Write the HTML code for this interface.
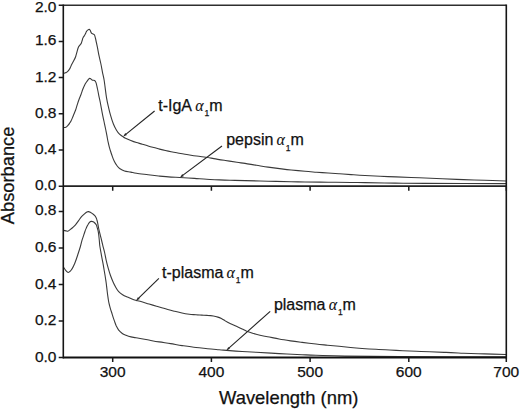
<!DOCTYPE html>
<html><head><meta charset="utf-8"><style>
html,body{margin:0;padding:0;background:#fff;}
body{width:520px;height:409px;position:relative;overflow:hidden;font-family:"Liberation Sans",sans-serif;color:#111;-webkit-text-stroke:0.25px #111;}
svg{position:absolute;left:0;top:0;}
.tl{position:absolute;font-size:15.5px;line-height:16px;transform:translateY(-8.8px);white-space:nowrap;}
.xl{position:absolute;top:363.5px;font-size:15.5px;line-height:16px;transform:translateX(-50%);white-space:nowrap;}
.al{position:absolute;font-size:16px;line-height:16px;white-space:nowrap;transform:translateY(-12.5px);}
.al .a{font-family:"Liberation Serif",serif;font-style:italic;font-size:16px;-webkit-text-stroke:0.1px #111;}
.al .s{font-size:8.5px;position:relative;top:5.6px;margin-left:0.8px;margin-right:0px;}
.xt{position:absolute;left:219px;top:389.2px;font-size:18.4px;line-height:18px;white-space:nowrap;}
.yt{position:absolute;left:0;top:0;font-size:18.3px;line-height:18px;white-space:nowrap;transform-origin:0 0;}
</style></head><body>
<svg width="520" height="409" viewBox="0 0 520 409">
<rect x="0" y="0" width="520" height="409" fill="#fff"/>
<path d="M63.5 73.3C63.8 73.2 64.8 73.1 65.5 72.8C66.2 72.5 66.8 72.4 67.5 71.7C68.2 71.0 69.1 69.8 69.8 68.6C70.5 67.4 71.1 65.6 71.8 64.3C72.5 63.0 73.0 62.1 73.7 60.8C74.4 59.5 75.2 58.0 75.7 56.5C76.2 55.0 76.6 53.3 77.0 51.8C77.4 50.3 77.8 48.5 78.3 47.4C78.8 46.3 79.2 46.1 79.7 45.4C80.2 44.7 80.9 44.1 81.3 43.2C81.7 42.3 82.0 40.9 82.3 40.0C82.6 39.1 82.6 38.5 83.0 37.8C83.4 37.0 84.0 36.3 84.5 35.5C85.0 34.7 85.5 33.7 85.8 33.0C86.1 32.3 86.2 31.9 86.5 31.4C86.8 30.9 87.2 30.5 87.7 30.1C88.2 29.7 88.9 29.2 89.3 29.2C89.7 29.2 89.8 29.6 90.2 30.3C90.6 31.0 91.0 32.5 91.5 33.1C92.0 33.7 92.6 33.7 93.1 34.0C93.6 34.3 94.0 34.0 94.4 34.8C94.8 35.5 95.0 36.4 95.5 38.5C96.0 40.6 96.8 44.4 97.4 47.2C98.0 50.0 98.3 52.5 98.9 55.2C99.5 57.9 100.2 60.8 100.8 63.5C101.4 66.2 101.8 68.7 102.3 71.4C102.8 74.2 103.6 77.1 104.1 80.0C104.6 82.9 104.9 85.9 105.3 88.8C105.7 91.7 106.0 94.7 106.5 97.6C107.0 100.5 107.6 103.5 108.3 106.4C109.0 109.3 109.7 112.3 110.5 115.2C111.3 118.1 112.4 121.5 113.4 124.0C114.4 126.5 115.5 128.5 116.5 130.2C117.5 131.9 118.4 133.1 119.5 134.2C120.6 135.3 122.2 136.1 123.1 136.7C124.0 137.3 123.7 137.4 125.0 138.0C126.3 138.6 128.9 139.7 130.8 140.4C132.7 141.2 134.6 141.9 136.5 142.5C138.4 143.1 140.4 143.6 142.3 144.2C144.2 144.8 146.2 145.3 148.1 145.9C150.0 146.5 151.9 147.0 153.8 147.5C155.7 148.0 157.7 148.6 159.6 149.1C161.5 149.6 163.5 150.1 165.4 150.5C167.3 150.9 169.2 151.3 171.1 151.7C173.0 152.1 174.6 152.4 176.9 152.8C179.2 153.2 181.7 153.7 185.0 154.2C188.3 154.7 193.0 155.5 196.5 156.0C200.0 156.5 202.9 156.8 205.8 157.2C208.7 157.6 210.5 158.0 213.8 158.6C217.1 159.2 221.6 159.9 225.4 160.5C229.2 161.1 233.6 161.8 236.9 162.3C240.2 162.8 241.7 162.9 245.0 163.4C248.3 163.9 252.7 164.7 256.5 165.3C260.4 165.9 264.2 166.6 268.1 167.1C272.0 167.6 275.8 168.1 279.6 168.6C283.4 169.1 286.9 169.6 291.1 170.0C295.3 170.4 300.8 170.9 305.0 171.3C309.2 171.7 312.6 171.9 316.5 172.2C320.4 172.5 324.2 172.7 328.1 173.0C332.0 173.3 335.8 173.5 339.6 173.8C343.4 174.1 346.9 174.3 351.1 174.6C355.3 174.9 358.8 175.2 365.0 175.5C371.2 175.8 380.4 176.3 388.1 176.6C395.8 176.9 405.0 177.3 411.1 177.5C417.2 177.7 419.8 177.8 425.0 178.0C430.2 178.2 435.9 178.5 442.3 178.8C448.7 179.1 456.4 179.3 463.5 179.6C470.6 179.8 477.5 180.1 484.6 180.3C491.7 180.5 502.4 180.9 506.0 181.0" fill="none" stroke="#3a3a3a" stroke-width="1.1" stroke-linejoin="round"/>
<path d="M63.5 127.5C63.9 127.5 65.2 127.5 65.9 127.2C66.6 126.9 67.1 126.2 67.7 125.6C68.3 125.0 69.0 124.2 69.5 123.4C70.0 122.6 70.5 121.9 71.0 120.9C71.5 119.9 72.0 118.9 72.5 117.6C73.0 116.3 73.7 114.7 74.3 113.2C74.9 111.7 75.5 110.4 76.0 108.8C76.5 107.2 77.1 105.2 77.6 103.6C78.1 102.0 78.6 100.5 79.2 99.0C79.8 97.5 80.4 96.1 81.0 94.5C81.6 92.9 82.2 90.9 82.8 89.3C83.4 87.7 84.1 86.1 84.7 84.9C85.3 83.7 85.9 82.9 86.5 82.0C87.1 81.1 87.7 80.2 88.2 79.6C88.7 79.0 89.2 78.5 89.7 78.4C90.2 78.3 90.6 78.8 91.1 79.1C91.6 79.4 91.9 80.0 92.5 80.2C93.1 80.4 94.0 80.1 94.6 80.5C95.2 80.9 95.5 81.2 96.0 82.6C96.5 84.0 97.0 86.8 97.5 89.0C98.0 91.2 98.5 93.9 98.9 96.1C99.4 98.3 99.7 99.3 100.2 102.0C100.7 104.7 101.5 109.1 102.1 112.3C102.7 115.5 103.3 118.2 103.9 121.0C104.5 123.8 105.1 126.4 105.6 129.0C106.1 131.6 106.7 134.5 107.1 136.7C107.5 138.9 107.7 140.3 108.2 142.4C108.7 144.5 109.2 146.9 109.9 149.1C110.6 151.3 111.3 153.7 112.1 155.8C112.8 157.9 113.6 159.8 114.4 161.5C115.2 163.2 116.3 164.8 117.2 166.0C118.1 167.2 118.8 168.0 120.0 168.8C121.2 169.6 122.7 170.4 124.5 171.0C126.3 171.6 128.8 171.7 130.8 172.1C132.8 172.5 133.6 172.9 136.5 173.3C139.4 173.8 144.2 174.3 148.1 174.8C151.9 175.3 155.8 175.7 159.6 176.1C163.4 176.5 167.7 176.9 171.1 177.1C174.5 177.3 175.9 177.3 179.8 177.5C183.7 177.7 189.9 178.1 194.4 178.4C198.9 178.7 202.6 179.1 206.7 179.3C210.8 179.6 215.3 179.7 219.2 179.9C223.1 180.1 225.7 180.2 230.0 180.3C234.3 180.4 238.7 180.4 245.0 180.6C251.3 180.8 260.4 181.0 268.1 181.2C275.8 181.4 285.0 181.7 291.1 181.8C297.2 181.9 298.8 181.9 305.0 182.0C311.2 182.1 320.4 182.1 328.1 182.2C335.8 182.3 345.0 182.4 351.1 182.5C357.2 182.6 357.7 182.5 365.0 182.6C372.3 182.7 385.0 183.0 395.0 183.1C405.0 183.2 406.5 183.3 425.0 183.4C443.5 183.5 492.5 183.6 506.0 183.6" fill="none" stroke="#3a3a3a" stroke-width="1.1" stroke-linejoin="round"/>
<path d="M63.5 230.4C63.9 230.5 65.2 230.8 65.9 230.9C66.6 231.0 67.2 231.4 67.9 231.2C68.6 231.0 69.0 230.5 69.8 229.9C70.6 229.3 71.8 228.4 72.8 227.5C73.8 226.6 74.7 225.8 75.7 224.6C76.7 223.4 77.6 221.9 78.6 220.6C79.6 219.3 80.5 217.8 81.5 216.7C82.5 215.6 83.6 214.6 84.5 213.8C85.4 213.0 86.2 212.4 86.9 212.0C87.6 211.6 87.8 211.5 88.4 211.6C89.0 211.7 89.5 211.9 90.3 212.3C91.1 212.8 92.5 213.7 93.3 214.3C94.1 215.0 94.6 215.4 95.2 216.2C95.8 217.0 96.3 218.0 96.7 219.2C97.1 220.3 97.4 221.5 97.7 223.1C98.0 224.7 98.3 226.6 98.7 228.5C99.1 230.4 99.6 232.4 100.1 234.3C100.6 236.2 101.0 238.0 101.5 240.0C102.0 242.0 102.5 244.2 103.0 246.3C103.5 248.4 104.1 250.2 104.6 252.5C105.1 254.8 105.6 257.7 106.2 260.3C106.8 262.9 107.5 265.6 108.2 268.1C108.9 270.6 109.6 272.9 110.4 275.2C111.2 277.5 112.3 280.1 113.2 282.2C114.1 284.3 115.1 286.1 116.0 287.7C116.9 289.3 117.6 290.4 118.7 291.6C119.8 292.8 121.2 293.8 122.6 294.7C124.0 295.6 125.7 296.3 127.3 297.0C128.9 297.7 130.5 298.5 132.0 299.1C133.5 299.7 134.7 299.9 136.3 300.4C137.9 300.8 139.7 301.2 141.8 301.8C143.9 302.4 146.7 303.3 149.1 304.0C151.5 304.7 154.1 305.5 156.5 306.2C158.9 306.9 160.8 307.4 163.8 308.3C166.8 309.2 171.7 310.5 174.7 311.3C177.7 312.1 179.6 312.5 182.0 313.0C184.4 313.5 187.0 313.9 189.3 314.2C191.6 314.5 193.9 314.6 196.0 314.8C198.1 315.0 199.9 315.0 201.8 315.1C203.7 315.2 205.6 315.2 207.5 315.4C209.4 315.5 211.6 315.7 213.3 316.0C215.0 316.3 216.6 316.7 217.9 317.1C219.2 317.5 220.2 318.0 221.4 318.6C222.6 319.2 223.3 319.8 224.8 320.6C226.3 321.5 228.7 322.8 230.6 323.7C232.5 324.6 234.5 325.4 236.4 326.3C238.3 327.2 240.4 328.2 242.1 329.0C243.8 329.8 244.8 330.4 246.7 331.2C248.6 331.9 251.5 332.8 253.7 333.5C255.9 334.2 257.7 334.7 260.0 335.2C262.3 335.7 264.3 336.1 267.5 336.7C270.7 337.3 275.2 338.3 279.1 339.0C283.0 339.7 286.8 340.3 290.6 340.9C294.4 341.5 297.9 341.9 302.1 342.4C306.3 342.9 311.8 343.5 316.0 344.0C320.2 344.5 323.6 344.8 327.5 345.2C331.4 345.6 335.2 345.9 339.1 346.3C343.0 346.7 346.8 347.1 350.6 347.5C354.4 347.9 357.9 348.2 362.1 348.5C366.3 348.8 371.4 349.1 376.0 349.3C380.6 349.6 385.0 349.8 389.5 350.0C394.0 350.2 398.4 350.5 402.9 350.7C407.4 350.9 411.9 351.1 416.4 351.3C420.9 351.5 424.9 351.6 429.8 351.8C434.7 352.0 440.4 352.2 446.0 352.4C451.6 352.6 457.1 352.9 463.5 353.2C469.9 353.4 477.5 353.7 484.6 353.9C491.7 354.1 502.4 354.4 506.0 354.5" fill="none" stroke="#3a3a3a" stroke-width="1.1" stroke-linejoin="round"/>
<path d="M63.5 267.1C63.9 267.7 65.1 269.7 65.9 270.6C66.7 271.5 67.5 272.4 68.2 272.5C68.9 272.6 69.7 271.8 70.3 271.2C70.9 270.6 71.2 270.4 71.9 269.1C72.7 267.8 73.8 265.6 74.8 263.2C75.8 260.8 76.8 257.8 77.7 255.0C78.6 252.2 79.7 248.9 80.4 246.5C81.1 244.1 81.4 242.4 81.9 240.6C82.4 238.8 83.0 237.5 83.5 235.9C84.0 234.3 84.5 232.6 85.0 231.2C85.5 229.8 86.1 228.5 86.6 227.3C87.1 226.1 87.7 225.0 88.2 224.2C88.7 223.3 89.2 222.7 89.7 222.2C90.2 221.7 90.7 221.5 91.3 221.4C91.9 221.3 92.6 221.5 93.2 221.8C93.8 222.1 94.3 222.5 94.8 223.0C95.3 223.5 96.0 224.2 96.4 224.9C96.8 225.6 96.8 226.4 97.1 227.3C97.4 228.2 97.7 229.2 98.0 230.4C98.3 231.7 98.5 233.2 98.7 234.8C98.9 236.4 99.1 238.2 99.3 240.2C99.5 242.1 99.5 243.9 99.9 246.5C100.3 249.1 101.0 252.8 101.5 255.6C102.0 258.4 102.5 260.9 103.0 263.4C103.5 265.9 103.8 268.2 104.2 270.5C104.6 272.8 105.0 274.9 105.3 277.0C105.6 279.1 105.9 280.6 106.2 283.0C106.5 285.4 106.9 288.8 107.2 291.5C107.5 294.2 108.0 297.3 108.3 299.5C108.6 301.7 108.9 303.0 109.3 304.5C109.7 306.0 109.9 306.9 110.4 308.6C110.9 310.3 111.7 312.6 112.3 314.6C112.9 316.6 113.5 318.5 114.2 320.4C114.9 322.3 115.5 324.2 116.2 325.8C117.0 327.4 117.7 328.9 118.7 330.2C119.7 331.5 121.1 332.6 122.3 333.5C123.5 334.4 124.5 334.7 126.0 335.3C127.5 335.9 129.3 336.5 131.0 336.9C132.7 337.3 133.2 337.3 136.0 337.8C138.8 338.3 143.7 339.1 147.5 339.8C151.3 340.5 155.2 341.3 159.1 341.9C162.9 342.5 166.8 343.0 170.6 343.6C174.4 344.2 177.9 345.0 182.1 345.6C186.3 346.2 191.8 347.0 196.0 347.5C200.2 348.0 203.7 348.3 207.5 348.7C211.3 349.1 215.9 349.5 219.1 349.8C222.3 350.1 222.8 350.1 226.6 350.4C230.4 350.7 237.2 351.2 242.1 351.5C247.0 351.8 249.8 351.9 256.0 352.3C262.2 352.7 271.4 353.2 279.1 353.6C286.8 354.0 296.0 354.4 302.1 354.7C308.2 355.0 308.9 355.1 316.0 355.3C323.1 355.5 331.0 355.9 345.0 356.1C359.0 356.3 373.2 356.5 400.0 356.6C426.8 356.7 488.3 356.8 506.0 356.9" fill="none" stroke="#3a3a3a" stroke-width="1.1" stroke-linejoin="round"/>
<path d="M63.3 5.2H506.3" fill="none" stroke="#2e2e2e" stroke-width="1.5"/>
<path d="M63.3 186.2H506.3" fill="none" stroke="#222" stroke-width="1.7"/>
<path d="M63.3 357.5H506.3" fill="none" stroke="#111" stroke-width="1.9"/>
<path d="M63.3 4.5V358.4M506.3 4.5V358.4" fill="none" stroke="#151515" stroke-width="1.6"/>
<path d="M112.7 186.2V190.8M112.7 357.5V362.1M211.4 186.2V190.8M211.4 357.5V362.1M310.1 186.2V190.8M310.1 357.5V362.1M408.8 186.2V190.8M408.8 357.5V362.1M506.3 186.2V190.8M506.3 357.5V362.1M58.7 186.2H63.3M58.7 150.0H63.3M58.7 113.8H63.3M58.7 77.6H63.3M58.7 41.4H63.3M58.7 5.2H63.3M58.7 357.5H63.3M58.7 321.0H63.3M58.7 284.5H63.3M58.7 247.9H63.3M58.7 211.4H63.3" fill="none" stroke="#1a1a1a" stroke-width="1.5"/>
<path d="M154.6 111.0L126.1 134.1" stroke="#222" stroke-width="1.1" fill="none"/><path d="M123.2 136.5L125.3 133.1L127.0 135.1Z" fill="#222"/>
<path d="M222.0 146.0L183.0 175.1" stroke="#222" stroke-width="1.1" fill="none"/><path d="M180.0 177.4L182.3 174.1L183.8 176.2Z" fill="#222"/>
<path d="M158.9 278.3L138.9 297.9" stroke="#222" stroke-width="1.1" fill="none"/><path d="M136.2 300.6L138.0 297.0L139.8 298.9Z" fill="#222"/>
<path d="M270.2 311.4L229.1 347.9" stroke="#222" stroke-width="1.1" fill="none"/><path d="M226.3 350.4L228.3 346.9L230.0 348.8Z" fill="#222"/>
</svg>
<div class="tl" style="right:463.5px;top:186.2px">0.0</div>
<div class="tl" style="right:463.5px;top:150.0px">0.4</div>
<div class="tl" style="right:463.5px;top:113.8px">0.8</div>
<div class="tl" style="right:463.5px;top:77.6px">1.2</div>
<div class="tl" style="right:463.5px;top:41.4px">1.6</div>
<div class="tl" style="right:463.5px;top:7.6px">2.0</div>
<div class="tl" style="right:463.5px;top:357.5px">0.0</div>
<div class="tl" style="right:463.5px;top:321.0px">0.2</div>
<div class="tl" style="right:463.5px;top:284.5px">0.4</div>
<div class="tl" style="right:463.5px;top:247.9px">0.6</div>
<div class="tl" style="right:463.5px;top:211.4px">0.8</div>
<div class="xl" style="left:112.7px">300</div>
<div class="xl" style="left:211.4px">400</div>
<div class="xl" style="left:310.1px">500</div>
<div class="xl" style="left:408.8px">600</div>
<div class="xl" style="left:506.3px">700</div>
<div class="al" style="left:158.2px;top:109.6px">t-IgA&#8201;<span class="a">&#945;</span><span class="s">1</span>m</div>
<div class="al" style="left:226.2px;top:144.4px">pepsin&#8201;<span class="a">&#945;</span><span class="s">1</span>m</div>
<div class="al" style="left:162.0px;top:276.5px">t-plasma&#8201;<span class="a">&#945;</span><span class="s">1</span>m</div>
<div class="al" style="left:273.9px;top:308.7px">plasma&#8201;<span class="a">&#945;</span><span class="s">1</span>m</div>
<div class="xt">Wavelength (nm)</div>
<div class="yt" style="transform:translate(-1.2px,224.2px) rotate(-90deg)">Absorbance</div>
</body></html>
